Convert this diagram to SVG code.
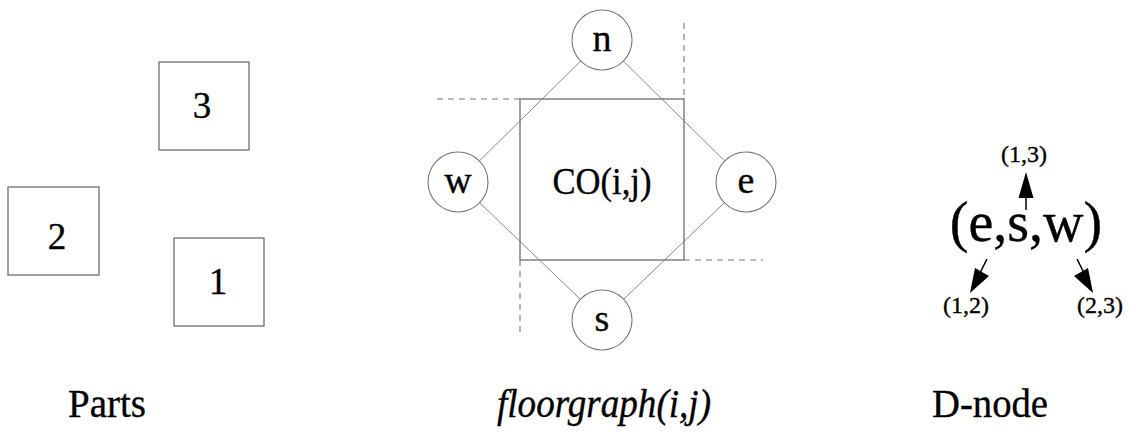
<svg xmlns="http://www.w3.org/2000/svg" width="1130" height="433" viewBox="0 0 1130 433">
<defs>
<style>
.box{fill:#fff;stroke:#6e6e6e;stroke-width:1.3}
.circ{fill:#fff;stroke:#777;stroke-width:1.1}
.edge{stroke:#888;stroke-width:1;fill:none}
.dash{stroke:#777;stroke-width:1.1;stroke-dasharray:6,5;fill:none}
.arr{stroke:#000;stroke-width:1.5;fill:none}
.head{fill:#000}
text{font-family:'Liberation Serif','Times New Roman',Times,'DejaVu Serif',serif;fill:#000;stroke:#000;stroke-width:0.35;text-anchor:middle}
</style>
</defs>
<g id="part-3"><rect class="box" x="159" y="62" width="90" height="88"/><text x="202" y="118" font-size="37">3</text></g>
<g id="part-2"><rect class="box" x="8" y="187" width="91" height="88"/><text x="57" y="249" font-size="37">2</text></g>
<g id="part-1"><rect class="box" x="174" y="238" width="90" height="88"/><text x="218" y="294" font-size="37">1</text></g>
<g id="connectors">
<line class="edge" x1="602" y1="40" x2="458" y2="182"/>
<line class="edge" x1="602" y1="40" x2="746" y2="182"/>
<line class="edge" x1="458" y1="182" x2="602" y2="320"/>
<line class="edge" x1="746" y1="182" x2="602" y2="320"/>
<line class="dash" x1="437" y1="99" x2="520" y2="99"/>
<line class="dash" x1="684" y1="23" x2="684" y2="99"/>
<line class="dash" x1="684" y1="260" x2="763" y2="260"/>
<line class="dash" x1="520" y1="260" x2="520" y2="336"/>
<line class="arr" x1="1026" y1="210" x2="1026" y2="195"/>
<polygon class="head" points="1026,172 1018.5,198 1033.5,198"/>
<line class="arr" x1="987" y1="259" x2="980" y2="273"/>
<polygon class="head" points="970,293 975,268 989,276"/>
<line class="arr" x1="1077" y1="259" x2="1084" y2="273"/>
<polygon class="head" points="1093,293 1074,276 1088,268"/>
</g>
<g id="co"><rect x="520" y="99" width="164" height="161" fill="none" stroke="#6e6e6e" stroke-width="1.3"/><text x="602" y="194" font-size="38" textLength="99" lengthAdjust="spacingAndGlyphs">CO(i,j)</text></g>
<g id="node-n"><circle class="circ" cx="602" cy="40" r="30"/><text x="602" y="51" font-size="38">n</text></g>
<g id="node-w"><circle class="circ" cx="458" cy="182" r="30"/><text x="458" y="193" font-size="38">w</text></g>
<g id="node-e"><circle class="circ" cx="746" cy="182" r="30"/><text x="746" y="193" font-size="38">e</text></g>
<g id="node-s"><circle class="circ" cx="602" cy="320" r="30"/><text x="602" y="331" font-size="38">s</text></g>
<g id="dnode">
<text x="1026" y="241" font-size="56">(e,s,w)</text>
<text x="1024" y="162" font-size="24">(1,3)</text>
<text x="966" y="313" font-size="24">(1,2)</text>
<text x="1100" y="313" font-size="24">(2,3)</text>
</g>
<g id="labels">
<text x="107" y="417" font-size="41" textLength="78" lengthAdjust="spacingAndGlyphs">Parts</text>
<text x="604" y="417" font-size="39" font-style="italic" textLength="214" lengthAdjust="spacingAndGlyphs">floorgraph(i,j)</text>
<text x="990" y="417" font-size="41" textLength="116" lengthAdjust="spacingAndGlyphs">D-node</text>
</g>
</svg>
